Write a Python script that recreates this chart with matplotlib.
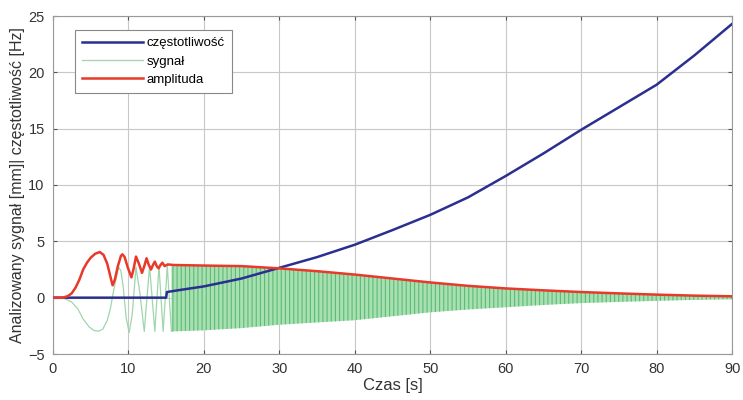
import matplotlib.pyplot as plt
import numpy as np

plt.rcParams['font.family'] = ['Liberation Sans', 'DejaVu Sans']
plt.rcParams['hatch.linewidth'] = 0.8

# frequency (blue)
freq_t = [0, 15, 15.1, 17, 20, 25, 30, 35, 40, 45, 50, 55, 60, 65, 70, 75, 80, 85, 90]
freq_v = [0, 0, 0.5, 0.7, 1.0, 1.7, 2.65, 3.6, 4.7, 6.0, 7.35, 8.9, 10.8, 12.8, 14.9, 16.9, 18.9, 21.5, 24.3]

# amplitude (red)
amp_t = [0, 1.3, 2, 2.5, 3, 3.5, 4, 4.5, 5, 5.6, 6.2, 6.7, 7.2, 7.6, 7.9, 8.2, 8.6, 9.0, 9.2,
         9.5, 9.9, 10.4, 10.7, 11.0, 11.4, 11.8, 12.1, 12.4, 12.7, 13.0, 13.25, 13.5, 13.75,
         14.0, 14.25, 14.5, 14.8, 15.2, 16, 20, 25, 30, 35, 40, 45, 50, 55, 60, 65, 70, 75,
         80, 85, 90]
amp_v = [0, 0, 0.15, 0.4, 0.9, 1.6, 2.5, 3.1, 3.55, 3.9, 4.05, 3.8, 3.0, 1.9, 1.1, 1.6, 2.8,
         3.7, 3.85, 3.6, 2.7, 1.8, 2.6, 3.65, 3.0, 2.2, 2.8, 3.5, 2.9, 2.5, 2.9, 3.2, 2.8,
         2.6, 2.9, 3.1, 2.8, 2.95, 2.9, 2.85, 2.8, 2.6, 2.35, 2.05, 1.7, 1.35, 1.05, 0.82,
         0.65, 0.5, 0.38, 0.27, 0.18, 0.12]

# signal (green), visible part of the first seconds
sig_t = [0, 1.3, 2.5, 3.3, 4.0, 4.8, 5.4, 6.0, 6.6, 7.2, 7.6, 8.0, 8.4, 8.7, 9.0, 9.3, 9.7,
         10.1, 10.5, 11.0, 11.5, 12.1, 12.8, 13.5, 14.05, 14.6, 15.15, 15.7]
sig_v = [0, 0, -0.4, -1.0, -1.9, -2.6, -2.9, -2.98, -2.8, -2.0, -1.0, 0.5, 1.8, 2.7, 2.4,
         1.0, -1.8, -3.1, -1.5, 2.7, 0.5, -3.0, 2.8, -3.0, 2.8, -3.0, 2.8, -3.0]

# signal envelope where the oscillation is too dense to resolve
env_t = [15.7, 20, 25, 30, 35, 40, 45, 50, 55, 60, 65, 70, 75, 80, 85, 90]
env_hi = [2.8, 2.8, 2.75, 2.55, 2.3, 2.0, 1.65, 1.3, 1.0, 0.78, 0.6, 0.46, 0.34, 0.24, 0.15, 0.1]
env_lo = [-3.0, -2.9, -2.7, -2.4, -2.2, -2.0, -1.65, -1.3, -1.05, -0.85, -0.65, -0.48, -0.38, -0.28, -0.2, -0.14]

blue = '#2b2f8f'
green = '#9fd6ab'
red = '#e8392a'

fig = plt.figure(figsize=(7.43, 4.0), dpi=100)
ax = fig.add_axes([0.0713, 0.115, 0.914, 0.845])

ax.fill_between(env_t, env_lo, env_hi, facecolor='#a8e0b4', edgecolor='#5cbb72',
                hatch='||||', linewidth=0, zorder=2)
ax.plot(sig_t, sig_v, color=green, lw=0.9, label='sygnał', zorder=3)
ax.plot(freq_t, freq_v, color=blue, lw=1.8, label='częstotliwość', zorder=4)
ax.plot(amp_t, amp_v, color=red, lw=1.8, label='amplituda', zorder=5)

ax.set_xlim(0, 90)
ax.set_ylim(-5, 25)
ax.set_xticks(np.arange(0, 91, 10))
ax.set_yticks(np.arange(-5, 26, 5))
ax.grid(True, color='#c8c8c8', lw=0.8)
ax.set_axisbelow(True)
ax.tick_params(direction='in', top=True, right=True, labelsize=10.5, colors='#555555',
               labelcolor='#333333', length=3, pad=6)
for s in ax.spines.values():
    s.set_color('#999999')

ax.set_xlabel('Czas [s]', fontsize=12, color='#333333', labelpad=1)
ax.set_ylabel('Analizowany sygnał [mm]| częstotliwość [Hz]', fontsize=11.5, color='#333333', labelpad=2)

h, l = ax.get_legend_handles_labels()
order = [1, 0, 2]
leg = ax.legend([h[i] for i in order], [l[i] for i in order], loc='upper left',
                bbox_to_anchor=(0.032, 0.959), borderaxespad=0, fontsize=9.5, fancybox=False,
                edgecolor='#888888', handlelength=4.6, handletextpad=0.3, borderpad=0.55,
                labelspacing=0.45, framealpha=1)
leg.get_frame().set_linewidth(0.8)

fig.savefig('out.png', dpi=100)
